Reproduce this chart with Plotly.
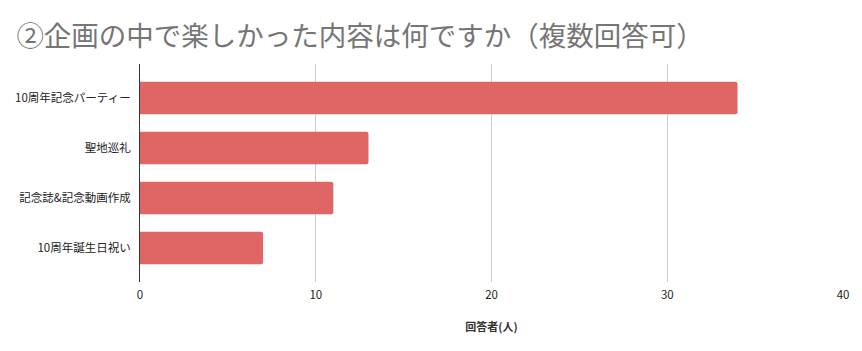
import plotly.graph_objects as go

categories = ["10周年記念パーティー", "聖地巡礼", "記念誌&記念動画作成", "10周年誕生日祝い"]
values = [34, 13, 11, 7]
x_ticks = [0, 10, 20, 30, 40]

title_text = "②企画の中で楽しかった内容は何ですか（複数回答可）"
x_title = "<b>回答者(人)</b>"

font_family = "Noto Sans CJK JP, Roboto, sans-serif"

fig = go.Figure(
    go.Bar(
        x=values,
        y=categories,
        orientation="h",
        marker=dict(color="#e06666", line=dict(width=0), cornerradius=2),
        width=0.65,
        hoverinfo="x+y",
    )
)

fig.update_layout(
    width=862,
    height=351,
    margin=dict(l=140, r=19, t=64, b=69),
    paper_bgcolor="white",
    plot_bgcolor="white",
    showlegend=False,
    font=dict(family=font_family, color="#222222", size=11),
    title=dict(
        text=title_text,
        x=0.019,
        xanchor="left",
        y=0.895,
        yanchor="middle",
        font=dict(family=font_family, size=27.5, color="#757575"),
    ),
    xaxis=dict(
        range=[0, 40],
        tickvals=x_ticks,
        showgrid=True,
        gridcolor="#cccccc",
        gridwidth=1,
        zeroline=False,
        showline=False,
        ticks="",
        ticklabelstandoff=4,
        tickfont=dict(size=11.5, color="#222222"),
        title=dict(text=x_title, font=dict(size=11, color="#333333"), standoff=22),
    ),
    yaxis=dict(
        type="category",
        categoryorder="array",
        categoryarray=categories,
        range=[3.68, -0.68],
        showgrid=False,
        zeroline=False,
        showline=True,
        linecolor="#333333",
        linewidth=1,
        ticks="",
        ticklabelstandoff=6,
        tickfont=dict(size=11.5, color="#222222"),
    ),
    bargap=0.35,
)

fig.write_html("out.html")
